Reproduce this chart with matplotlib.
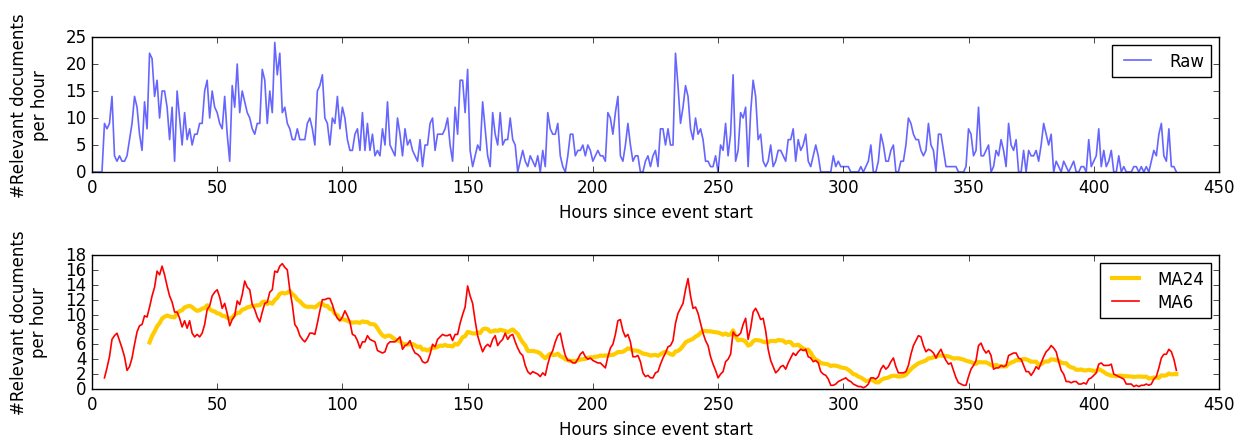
import matplotlib
matplotlib.use("Agg")
import matplotlib.pyplot as plt
import numpy as np
import pandas as pd

# relevant documents per hour, hours 0..433
raw_counts = [
    0, 0, 0, 0, 0, 9, 8, 9, 14, 3,
    2, 3, 2, 2, 3, 6, 9, 14, 12, 7,
    4, 13, 8, 22, 21, 14, 17, 10, 15, 15,
    12, 6, 12, 2, 15, 10, 5, 11, 6, 8,
    5, 7, 7, 9, 9, 15, 17, 10, 15, 12,
    11, 9, 8, 14, 7, 2, 16, 12, 20, 11,
    15, 13, 11, 10, 8, 7, 9, 9, 19, 17,
    9, 15, 11, 24, 18, 22, 11, 12, 9, 8,
    6, 6, 8, 6, 6, 6, 9, 10, 8, 5,
    15, 16, 18, 10, 9, 5, 10, 9, 14, 8,
    12, 10, 6, 4, 4, 7, 8, 4, 11, 4,
    9, 4, 7, 3, 4, 3, 8, 5, 13, 5,
    4, 3, 10, 7, 3, 8, 5, 6, 4, 3,
    2, 6, 1, 5, 5, 9, 10, 4, 7, 7,
    7, 8, 10, 5, 2, 12, 7, 17, 17, 11,
    19, 4, 1, 3, 5, 4, 13, 8, 3, 1,
    11, 7, 5, 11, 5, 6, 6, 10, 6, 5,
    0, 2, 4, 2, 1, 3, 2, 1, 3, 0,
    4, 1, 11, 8, 7, 7, 9, 3, 1, 0,
    3, 7, 7, 3, 4, 4, 5, 3, 5, 4,
    2, 3, 4, 3, 3, 2, 11, 10, 7, 11,
    14, 3, 2, 5, 9, 5, 2, 3, 3, 0,
    0, 2, 3, 1, 3, 4, 1, 8, 8, 5,
    8, 5, 5, 22, 16, 9, 12, 16, 14, 8,
    6, 10, 7, 8, 6, 2, 2, 1, 1, 3,
    0, 5, 4, 9, 3, 7, 18, 2, 4, 11,
    10, 12, 1, 11, 17, 14, 6, 7, 2, 1,
    2, 5, 1, 2, 4, 4, 3, 2, 6, 6,
    8, 2, 6, 4, 5, 7, 2, 1, 3, 5,
    3, 0, 0, 0, 0, 0, 3, 1, 2, 1,
    1, 1, 1, 0, 0, 0, 0, 1, 0, 1,
    2, 5, 0, 0, 2, 7, 5, 2, 2, 4,
    5, 0, 0, 2, 2, 5, 10, 9, 7, 6,
    6, 4, 3, 4, 9, 5, 4, 0, 7, 7,
    4, 1, 1, 1, 1, 1, 0, 0, 0, 1,
    8, 7, 3, 4, 12, 3, 3, 4, 5, 0,
    1, 4, 3, 6, 4, 1, 9, 5, 4, 6,
    0, 0, 4, 0, 4, 3, 3, 4, 2, 5,
    9, 7, 5, 7, 0, 2, 1, 0, 2, 1,
    0, 1, 2, 0, 0, 1, 1, 0, 6, 1,
    2, 3, 8, 1, 4, 1, 2, 4, 0, 0,
    3, 0, 1, 0, 0, 0, 1, 1, 0, 1,
    0, 1, 0, 2, 4, 3, 7, 9, 3, 2,
    8, 1, 1, 0,
]
hours = np.arange(len(raw_counts))

ylabel = "#Relevant documents\nper hour"
xlabel = "Hours since event start"

plt.style.use("classic")
plt.rcParams["figure.facecolor"] = "white"
plt.rcParams["savefig.facecolor"] = "white"
plt.rcParams["font.size"] = 12

s = pd.Series(raw_counts, index=hours)
ma24 = s.rolling(24).mean()
ma6 = s.rolling(6).mean()

fig = plt.figure(figsize=(12.46, 4.39), dpi=100)
ax1 = fig.add_axes([0.0738, 0.6059, 0.9045, 0.3075])
ax2 = fig.add_axes([0.0738, 0.1116, 0.9045, 0.3053])

ax1.plot(hours, raw_counts, color="#6666ff", lw=1.2, label="Raw")
ax1.set_xlim(0, 450)
ax1.set_ylim(0, 25)
ax1.set_yticks(range(0, 26, 5))
ax1.set_xlabel(xlabel)
ax1.set_ylabel(ylabel, labelpad=12)
ax1.legend(loc="upper right", fontsize=12, labelspacing=0.3,
           handlelength=2.2, borderpad=0.4)

ax2.plot(hours, ma24, color="#ffcc00", lw=3, label="MA24")
ax2.plot(hours, ma6, color="red", lw=1.2, label="MA6")
ax2.set_xlim(0, 450)
ax2.set_ylim(0, 18)
ax2.set_yticks(range(0, 19, 2))
ax2.set_xlabel(xlabel)
ax2.set_ylabel(ylabel, labelpad=12)
ax2.legend(loc="upper right", fontsize=12, labelspacing=0.3,
           handlelength=2.2, borderpad=0.4)

fig.savefig("out.png", dpi=100)
